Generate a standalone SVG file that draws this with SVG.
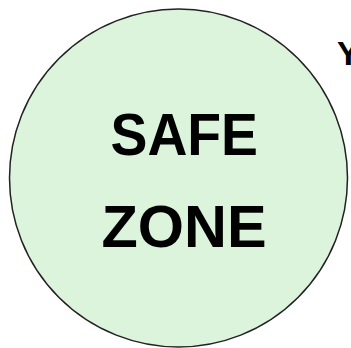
<svg xmlns="http://www.w3.org/2000/svg" width="351" height="348" viewBox="0 0 351 348">
<style>
.t{font-family:"Liberation Sans",Arial,sans-serif;font-weight:bold;fill:#000}
</style>
<rect width="351" height="348" fill="#fff"/>
<g id="safe-zone">
<circle cx="178.5" cy="178" r="169" fill="#dbf4db" stroke="#222" stroke-width="1.5"/>
<text class="t" x="110.5" y="155" font-size="60" textLength="147.5" lengthAdjust="spacingAndGlyphs">SAFE</text>
<text class="t" x="101.5" y="246.5" font-size="60" textLength="165" lengthAdjust="spacingAndGlyphs">ZONE</text>
</g>
<g id="label">
<text class="t" x="337" y="65" font-size="34">Y</text>
</g>
</svg>
